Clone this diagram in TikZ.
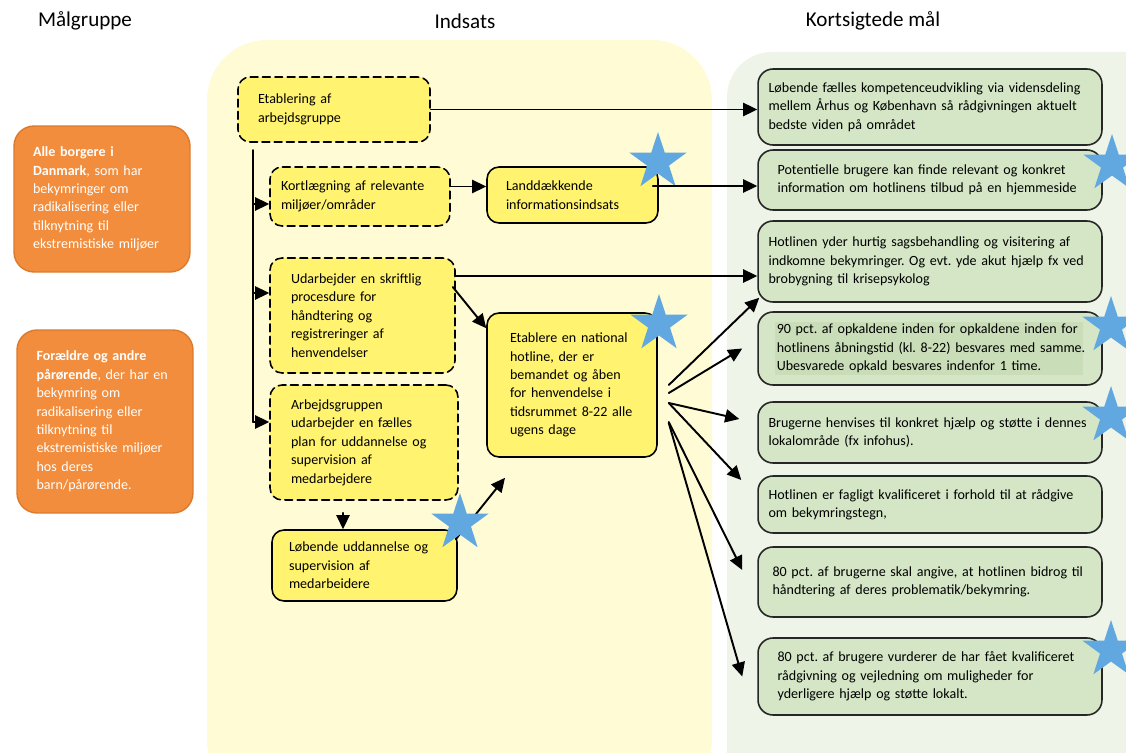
\documentclass[tikz,border=0pt]{standalone}
\usepackage{fontspec}
\setmainfont{Carlito}
\usetikzlibrary{arrows.meta,shapes.geometric}
\definecolor{yellowbg}{HTML}{FEFBD5}
\definecolor{greenbg}{HTML}{EEF4E8}
\definecolor{taskfill}{HTML}{FFF370}
\definecolor{goalfill}{HTML}{D4E6C5}
\definecolor{goalhl}{HTML}{C9DEB8}
\definecolor{orangefill}{HTML}{F28D3D}
\definecolor{orangeline}{HTML}{DC7A2C}
\definecolor{starblue}{HTML}{62A8E0}
\newcommand{\jline}[1]{\makebox[6.1cm][s]{#1}}
\frenchspacing

\begin{document}
\begin{tikzpicture}[line cap=round,line join=round,>={Triangle[length=8pt,width=7.5pt]},x=0.02cm,y=-0.02cm,
	every node/.style={font=\fontsize{8}{10.5}\selectfont},
	header/.style={font=\fontsize{12}{14}\selectfont},
	target/.style={rectangle,rounded corners=0.4cm,draw=orangeline,fill=orangefill,line width=0.8pt,text=white,align=left,inner sep=0pt},
	task/.style={rectangle,rounded corners=0.24cm,draw=black,fill=taskfill,line width=0.9pt,align=left,inner sep=0pt},
	plan/.style={task,dash pattern=on 4.5pt off 2.5pt},
	goal/.style={rectangle,rounded corners=0.3cm,draw=black!85,fill=goalfill,line width=0.9pt,align=left,inner sep=0pt,minimum width=6.88cm,text width=6.1cm},
	goalwide/.style={goal,text width=6.46cm},
	bluestar/.style={star,star points=5,star point ratio=2.6,fill=starblue,draw=none,minimum size=1.2cm,inner sep=0pt},
	link/.style={->,line width=1.1pt}]
		\useasboundingbox (0,0) rectangle (1126,753);
		\clip (0,0) rectangle (1126,753);
		\fill [yellowbg,rounded corners=1.2cm] (207,40) rectangle (712,800);
		\fill [greenbg,rounded corners=0.9cm] (727,52) rectangle (1180,800);
		\node[header] (hmaal) at (85,21) {Målgruppe};
		\node[header] (hinds) at (465,21) {Indsats};
		\node[header] (hkort) at (873,21) {Kortsigtede mål};
		\node[target,minimum width=3.52cm,minimum height=2.92cm,text width=2.76cm] (borgere) at (102,199) {\textbf{Alle borgere i}\\\textbf{Danmark}, som har\\bekymringer om\\radikalisering eller\\tilknytning til\\ekstremistiske miljøer};
		\node[target,minimum width=3.52cm,minimum height=3.66cm,text width=2.74cm] (foraeldre) at (105,421.5) {\textbf{Forældre og andre}\\\textbf{pårørende}, der har en\\bekymring om\\radikalisering eller\\tilknytning til\\ekstremistiske miljøer\\hos deres\\barn/pårørende.};
		\node[plan,minimum width=3.84cm,minimum height=1.3cm,text width=3.04cm] (etab) at (334,109.5) {Etablering af\\arbejdsgruppe};
		\node[plan,minimum width=3.6cm,minimum height=1.18cm,text width=3.16cm] (kort) at (360,196.5) {Kortlægning af relevante\\miljøer/områder};
		\node[task,minimum width=3.42cm,minimum height=1.12cm,text width=2.66cm] (land) at (572.5,195) {Landdækkende\\informationsindsats};
		\node[plan,minimum width=3.7cm,minimum height=2.3cm,text width=2.86cm] (udarb) at (362.5,315.5) {Udarbejder en skriftlig\\procesdure for\\håndtering og\\registreringer af\\henvendelser};
		\node[plan,minimum width=3.76cm,minimum height=2.3cm,text width=2.92cm] (arbgr) at (364,442.5) {Arbejdsgruppen\\udarbejder en fælles\\plan for uddannelse og\\supervision af\\medarbejdere};
		\node[task,minimum width=3.7cm,minimum height=1.42cm,text width=3.02cm] (loeb) at (364.5,565.5) {Løbende uddannelse og\\supervision af\\medarbeidere};
		\node[task,minimum width=3.4cm,minimum height=2.88cm,text width=2.48cm] (hotline) at (572,385) {Etablere en national\\hotline, der er\\bemandet og åben\\for henvendelse i\\tidsrummet 8-22 alle\\ugens dage};
		\node[goalwide,minimum height=1.52cm] (g1) at (930,107) {Løbende fælles kompetenceudvikling via vidensdeling\\mellem Århus og København så rådgivningen aktuelt\\bedste viden på området};
		\node[goal,minimum height=1.2cm] (g2) at (930,180) {Potentielle brugere kan finde relevant og konkret\\information om hotlinens tilbud på en hjemmeside};
		\node[goalwide,minimum height=1.62cm] (g3) at (930,261.5) {Hotlinen yder hurtig sagsbehandling og visitering af\\indkomne bekymringer. Og evt. yde akut hjælp fx ved\\brobygning til krisepsykolog};
		\node[goal,minimum height=1.46cm,text width=6.2cm] (g4) at (930,348.5) {\setlength{\fboxsep}{1pt}\colorbox{goalhl}{\parbox{6.1cm}{\jline{90 pct. af opkaldene inden for opkaldene inden for}\\\jline{hotlinens åbningstid (kl. 8-22) besvares med samme.}\\Ubesvarede opkald besvares indenfor 1 time.}}};
		\node[goalwide,minimum height=1.22cm] (g5) at (930,432.5) {Brugerne henvises til konkret hjælp og støtte i dennes\\lokalområde (fx infohus).};
		\node[goalwide,minimum height=1.14cm] (g6) at (930,504.5) {Hotlinen er fagligt kvalificeret i forhold til at rådgive\\om bekymringstegn,};
		\node[goal,minimum height=1.4cm,text width=6.3cm] (g7) at (930,582) {80 pct. af brugerne skal angive, at hotlinen bidrog til\\håndtering af deres problematik/bekymring.};
		\node[goal,minimum height=1.54cm] (g8) at (930,676.5) {\jline{80 pct. af brugere vurderer de har fået kvalificeret}\\\jline{rådgivning og vejledning om muligheder for}\\yderligere hjælp og støtte lokalt.};
		\draw[link] ([xshift=-0.04cm,yshift=-0.2cm]loeb.north east) -- ([xshift=-1.34cm,yshift=-0.4cm]hotline.south);
		\node[bluestar] (star1) at (658,162) {};
		\node[bluestar] (star2) at (1112,164) {};
		\node[bluestar] (star3) at (659,324) {};
		\node[bluestar] (star4) at (1111,326) {};
		\node[bluestar] (star5) at (1111,416) {};
		\node[bluestar] (star6) at (460,523) {};
		\node[bluestar] (star7) at (1111,650) {};
		\coordinate (trunk) at (253,150);
		\coordinate (b1) at (253,204);
		\coordinate (b2) at (253,293);
		\coordinate (b3) at (253,422);
		\draw[line width=1.1pt] (trunk) -- (b3);
		\draw[link] (b1) -- (b1 -| kort.west);
		\draw[link] (b2) -- (b2 -| udarb.west);
		\draw[link] (b3) -- (b3 -| arbgr.west);
		\draw[link] (etab.east) -- (etab.east -| g1.west);
		\draw[link] ([yshift=0.2cm]kort.east) -- ([yshift=0.2cm]kort.east -| land.west);
		\draw[link] ([xshift=-0.12cm,yshift=0.18cm]land.east) -- ([yshift=0.18cm]land.east -| g2.west);
		\draw[link] ([yshift=0.79cm]udarb.east) -- ([yshift=0.79cm]udarb.east -| g3.west);
		\draw[link] ([xshift=-0.06cm,yshift=0.57cm]udarb.east) -- ([yshift=-0.32cm]hotline.north west);
		\draw[link,shorten <=0.24cm] ([xshift=-0.42cm]arbgr.south) -- ([xshift=-0.42cm]arbgr.south |- loeb.north);
		\draw[link] ([xshift=0.22cm]hotline.east) -- ([xshift=0.04cm,yshift=0.1cm]g3.south west);
		\draw[link] ([xshift=0.22cm,yshift=-0.16cm]hotline.east) -- ([xshift=-0.3cm]g4.west);
		\draw[link] ([xshift=0.22cm,yshift=-0.36cm]hotline.east) -- ([xshift=-0.36cm,yshift=0.27cm]g5.west);
		\draw[link] ([xshift=0.22cm,yshift=-0.36cm]hotline.east) -- ([xshift=-0.32cm,yshift=0.49cm]g6.west);
		\draw[link] ([xshift=0.22cm,yshift=-0.74cm]hotline.east) -- ([xshift=-0.3cm,yshift=0.24cm]g7.west);
		\draw[link] ([xshift=0.22cm,yshift=-0.76cm]hotline.east) -- ([xshift=-0.3cm]g8.west);
	\end{tikzpicture}
\end{document}
